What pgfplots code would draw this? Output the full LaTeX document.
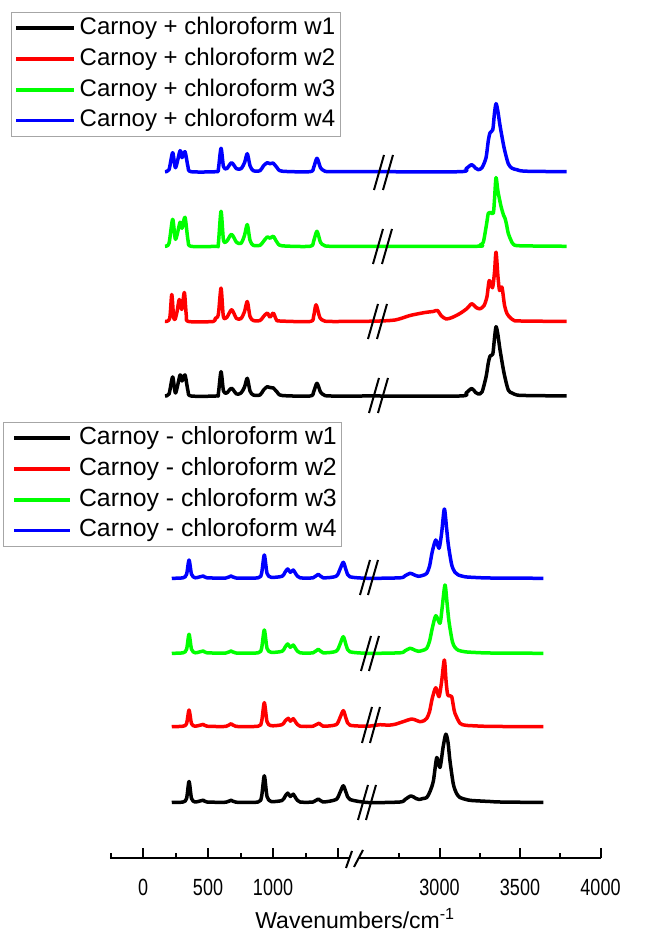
\documentclass[border=0pt]{standalone}
\usepackage{pgfplots}
\pgfplotsset{compat=1.18}
\usepackage{pgfplotstable}
\usepackage{graphicx}
\usepackage{fontspec}
\setmainfont{Liberation Sans}

\newcommand{\sq}[1]{\scalebox{0.77}[1]{#1}}

% top group: Carnoy + chloroform (x = wavenumber, h = intensity)
\pgfplotstableread{
x h
169 0
200 2
228 19
250 3
285 21
300 15
323 21
346 5
369 0
562 0
579 2
600 24.3
619 5
644 3
681 7.7
719 2
754 3
781 9
802 17.7
823 5
848 1
900 1
927 6
956 9.3
977 8.5
1002 8
1031 4
1069 0.5
1285 0
1312 4
1338 12.7
1365 4
1392 1
1438 0
2587 0
3127 0
3165 3
3200 7.5
3224 3.5
3241 2
3264 4
3289 19
3303 33
3314 40
3331 42
3341 57
3351 69.3
3362 62
3376 46
3401 22.7
3427 6
3450 3
3480 1
3531 0.5
3790 0
}\tk
\pgfplotstableread{
x h
169 0
205 3
221 27
235 5
246 2
262 10
279 22
298 12
318 29
333 6
350 0
540 0
554 3
579 6.7
600 33.4
618 5
644 4
682 11.7
719 3
754 3
781 10
802 20
823 5
848 1
900 1
927 5
956 8.4
977 4.4
1002 8.4
1025 2
1050 0.5
1285 0
1312 5
1331 16.7
1360 4
1387 1
1438 0
2587 0.3
2724 1.5
2817 6
2910 9
2960 10
2988 11
3009 6
3041 2.5
3078 4
3127 8
3171 13
3200 17.7
3227 14
3252 12.7
3277 16
3295 25
3309 41
3329 33.7
3342 50
3351 69.3
3363 45
3373 31
3388 34.3
3404 16
3419 8
3438 4
3463 1
3500 0.5
3790 0
}\tr
\pgfplotstableread{
x h
169 0
200 3
228 27
250 7
285 24
300 18
323 29
346 6
369 0
562 0
579 2
600 35
619 6
644 5
681 12
719 4
754 3
781 11
802 21.7
823 6
848 1
900 1
927 5
956 9.4
977 8
1002 10
1031 4
1069 0.5
1285 0
1312 5
1338 15
1365 4
1392 1
1438 0
2587 0
3227 0
3252 1.5
3272 4
3293 23
3303 33
3314 34
3334 33
3342 48
3351 68.7
3363 55
3382 40
3398 31
3407 28
3416 22
3427 13
3444 6
3459 2
3500 0.5
3790 0
}\tg
\pgfplotstableread{
x h
169 0
200 2
228 19
250 4
285 21
300 14
323 20
346 5
369 0
562 0
579 2
600 23.4
619 5
644 3
681 9
719 3
754 3
781 9
802 18
823 6
848 1
900 1
927 6
956 9
977 8
1002 8.5
1031 4
1069 0.5
1285 0
1312 4
1338 13.4
1365 4
1392 1
1438 0
2587 0
3127 0
3165 3
3200 7
3224 3.5
3241 2
3264 4
3289 14
3303 31
3314 39
3331 42
3341 58
3351 68
3362 61
3376 46
3401 24
3427 8
3450 3.5
3480 2
3531 0.5
3790 0
}\tb

% bottom group: Carnoy - chloroform
\pgfplotstableread{
x h
221 0
308 0.5
335 4
354 21
373 4
400 0.5
438 1.5
464 2.3
492 0.5
638 0.3
677 2.3
715 0.3
885 0.5
912 6
933 26.7
954 6
985 1
1069 2
1092 6
1113 9.4
1133 6
1156 8.3
1177 4
1208 0.5
1308 0.5
1348 3.5
1385 0.5
1485 3
1515 10
1541 16.7
1565 9
1592 3
2556 0
2755 0.5
2786 3
2823 6.6
2854 4
2873 3
2898 4
2921 5
2941 11
2962 21.6
2983 45
3003 35
3022 55
3039 68.3
3053 60
3065 41.6
3086 18.3
3106 9
3127 5
3165 3
3200 2
3314 1
3376 0.5
3645 0
}\bk
\pgfplotstableread{
x h
221 0
308 0.5
335 3
354 16.7
373 3
400 0.5
438 1.5
464 2.3
492 0.5
638 0.3
677 3
715 0.3
885 0.5
912 5
933 24
954 5
985 1
1069 2
1092 5.5
1118 8.4
1133 5.5
1156 8
1177 4
1208 0.5
1308 0.5
1354 3.5
1385 0.5
1485 2
1515 9
1541 16
1565 7
1592 1.5
2556 0.5
2631 2
2680 1.5
2724 2.4
2786 5.7
2827 7.7
2854 6.5
2879 5
2904 6
2921 8.4
2938 15
2955 28.4
2977 39
2997 30
3013 45
3030 66.7
3041 45
3051 31.7
3065 31
3076 30
3087 20
3096 13.4
3127 3.4
3159 1.5
3200 1
3314 0.3
3645 0
}\br
\pgfplotstableread{
x h
221 0
308 0.5
335 4
354 19
373 4
400 0.5
438 1.5
464 2.3
492 0.5
638 0.3
677 2.3
715 0.3
885 0.5
912 5
933 23.3
954 5
985 1
1069 2
1092 6
1113 9.3
1133 6
1156 8.3
1177 4
1208 0.5
1308 0.5
1348 4
1385 0.5
1485 2
1515 9
1541 16.6
1565 7
1592 1.5
2556 0
2755 0.5
2786 2.5
2817 5
2842 3.5
2868 2
2898 3
2921 5
2938 12
2955 25
2977 37.6
3003 30
3016 45
3034 68.3
3047 50
3059 31.6
3080 11.6
3096 6
3117 3
3159 1.5
3200 1
3314 0.3
3645 0
}\bg
\pgfplotstableread{
x h
221 0
308 0.5
335 4
354 18.3
373 4
400 0.5
438 1.5
464 2.3
492 0.5
638 0.3
677 2.3
715 0.3
885 0.5
912 5
933 23.3
954 5
985 1
1069 2
1092 6
1113 9.3
1133 6
1156 8.3
1177 4
1208 0.5
1308 0.5
1348 4
1385 0.5
1485 2
1515 9
1541 16
1565 7
1592 1.5
2556 0
2755 0.5
2786 2.5
2817 5
2842 3.5
2868 2
2898 3
2921 5
2938 12
2955 26.6
2977 38.3
2997 30
3013 45
3030 69.3
3044 50
3055 33.3
3076 13.3
3096 6
3117 3.3
3159 1.5
3200 1
3314 0.3
3645 0
}\bb

\pgfplotsset{
  brokenx/.style={
    scale only axis, width=245.25bp, height=429bp,
    xmin=-254, xmax=4000, ymin=74, ymax=932,
    % broken axis: 0-1600 and 2525-4000 at different scales
    x coord trafo/.code={\pgfmathparse{(##1<1608)*(143+0.13*##1)+(##1>=1608)*(##1<2525)*(352+0.0119956*(##1-1608))+(##1>=2525)*(363+0.161*(##1-2525))}},
    clip=false,
    legend cell align=left,
  },
  spec/.style={line width=1.75bp, smooth, tension=0.45, line join=round},
  legbox/.style={anchor=north west, draw=gray!70, line width=0.6bp, fill=white,
    inner xsep=1.5bp, inner ysep=1bp, row sep=1.8bp,
    nodes={inner sep=1bp, text height=9bp, text depth=2.6bp}},
}

\begin{document}
\begin{tikzpicture}
\path[use as bounding box] (-55bp,-37bp) rectangle (271bp,429bp);

\begin{axis}[brokenx,
  axis x line=bottom, axis y line=none, ytick=\empty,
  x axis line style={-, line width=1bp},
  xtick={0,500,1000,1500,3000,3500,4000},
  xticklabels={\sq{0},\sq{500},\sq{1000},,\sq{3000},\sq{3500},\sq{4000}},
  minor xtick={-250,250,750,1250,2750,3250,3750},
  tick align=inside,
  major tick length=5bp, minor tick length=2.5bp,
  tick style={black, line width=1bp},
  xticklabel style={font=\fontsize{11.7bp}{14bp}\selectfont, anchor=base, yshift=-18.5bp},
  xlabel={Wavenumbers/cm\textsuperscript{-1}},
  xlabel style={font=\fontsize{11.5bp}{14bp}\selectfont, at={(axis description cs:0.5,0)}, anchor=base, yshift=-35bp},
  legend image code/.code={\path (0bp,0bp); \draw[#1] (3bp,0bp) -- (31bp,0bp);},
  legend style={legbox, at={(-0.21815,0.50816)}, font=\fontsize{12.4bp}{14bp}\selectfont,
    /tikz/every odd column/.append style={column sep=2.5bp}},
]
\addplot[black, spec] table[x=x, y expr=\thisrow{h}+129.5] {\bk};
\addlegendentry{Carnoy - chloroform w1}
\addplot[red, spec] table[x=x, y expr=\thisrow{h}+205.3] {\br};
\addlegendentry{Carnoy - chloroform w2}
\addplot[green, spec] table[x=x, y expr=\thisrow{h}+278.7] {\bg};
\addlegendentry{Carnoy - chloroform w3}
\addplot[blue, spec] table[x=x, y expr=\thisrow{h}+353.7] {\bb};
\addlegendentry{Carnoy - chloroform w4}
\end{axis}

\begin{axis}[brokenx, hide axis,
  legend image code/.code={\draw[#1] (0bp,0bp) -- (29bp,0bp);},
  legend style={legbox, at={(-0.2018,0.98601)}, font=\fontsize{12bp}{14bp}\selectfont,
    /tikz/every odd column/.append style={column sep=0.8bp}},
]
\addplot[black, spec] table[x=x, y expr=\thisrow{h}+536] {\tk};
\addlegendentry{Carnoy + chloroform w1}
\addplot[red, spec] table[x=x, y expr=\thisrow{h}+610.5] {\tr};
\addlegendentry{Carnoy + chloroform w2}
\addplot[green, spec] table[x=x, y expr=\thisrow{h}+685.7] {\tg};
\addlegendentry{Carnoy + chloroform w3}
\addplot[blue, spec] table[x=x, y expr=\thisrow{h}+760.3] {\tb};
\addlegendentry{Carnoy + chloroform w4}
\end{axis}

% break marks (picture pixel coordinates)
\begin{scope}[x=0.5bp, y=-0.5bp, shift={(-55bp,429bp)}, line width=1bp]
\fill[white] (349,854) rectangle (358.5,862);
\draw (346,868) -- (352,851) (354,867) -- (363,850);
\draw (374,190) -- (384,155) (383,190) -- (393,155);
\draw (373,264) -- (383,229) (382,264) -- (392,229);
\draw (368,339) -- (378,304) (377,339) -- (387,304);
\draw (369,413) -- (379,378) (378,413) -- (388,378);
\draw (360,595) -- (370,560) (368,595) -- (378,560);
\draw (361,671) -- (371,636) (369,671) -- (379,636);
\draw (362,743) -- (372,707) (370,743) -- (380,707);
\draw (358,820) -- (368,785) (366,820) -- (376,785);
\end{scope}
\end{tikzpicture}
\end{document}
